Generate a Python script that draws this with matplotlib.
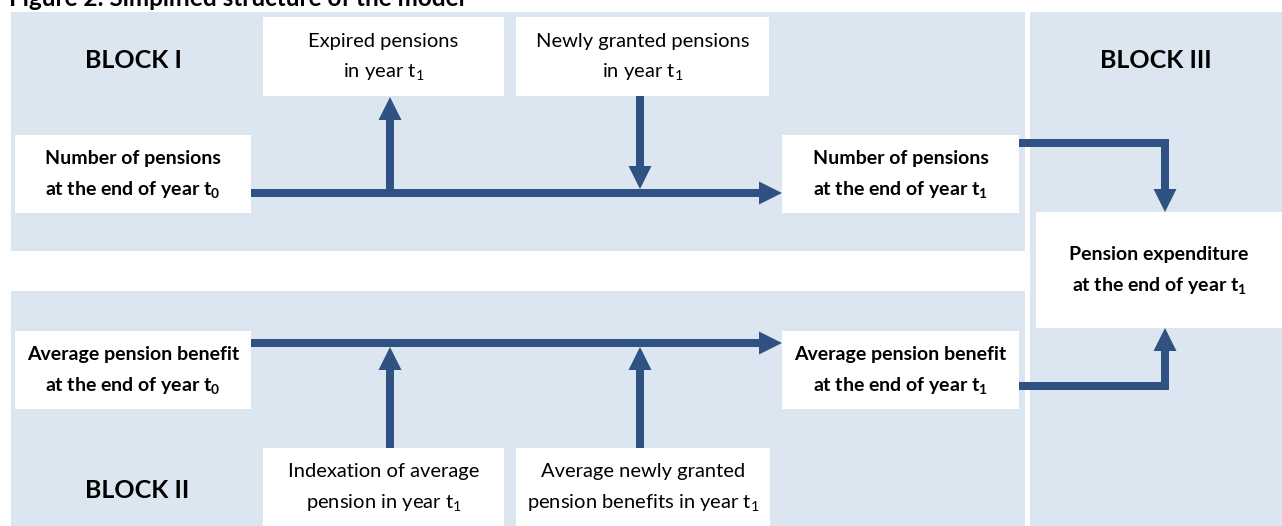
import matplotlib
matplotlib.use("Agg")
import matplotlib.pyplot as plt
from matplotlib.patches import Rectangle, Polygon

plt.rcParams['font.family'] = ['Lato', 'DejaVu Sans']

# ---- content ----
title = "Figure 2: Simplified structure of the model"
block_labels = ["BLOCK I", "BLOCK II", "BLOCK III"]
side_boxes = [  # bold boxes
    ["Number of pensions", r"at the end of year $\mathregular{t_0}$"],
    ["Number of pensions", r"at the end of year $\mathregular{t_1}$"],
    ["Average pension benefit", r"at the end of year $\mathregular{t_0}$"],
    ["Average pension benefit", r"at the end of year $\mathregular{t_1}$"],
    ["Pension expenditure", r"at the end of year $\mathregular{t_1}$"],
]
flow_boxes = [  # regular boxes
    ["Expired pensions", r"in year $\mathregular{t_1}$"],
    ["Newly granted pensions", r"in year $\mathregular{t_1}$"],
    ["Indexation of average", r"pension in year $\mathregular{t_1}$"],
    ["Average newly granted", r"pension benefits in year $\mathregular{t_1}$"],
]

# ---- layout (pixel coordinates) ----
W, H = 1282, 526
BG = "#DCE6F1"
ARROW = "#2F5282"

fig = plt.figure(figsize=(W / 100, H / 100), dpi=100)
ax = fig.add_axes([0, 0, 1, 1])
ax.set_xlim(0, W)
ax.set_ylim(H, 0)
ax.axis("off")

# block backgrounds (x0, y0, x1, y1)
blocks = [(11, 12, 1025, 251), (11, 291, 1025, H), (1030, 12, W, H)]
for x0, y0, x1, y1 in blocks:
    ax.add_patch(Rectangle((x0, y0), x1 - x0, y1 - y0, facecolor=BG, edgecolor="none", zorder=1))

block_text_pos = [(85, 60, "left"), (85, 490, "left"), (1156, 60, "center")]
for lab, (x, y, ha) in zip(block_labels, block_text_pos):
    ax.text(x, y, lab, ha=ha, va="center", fontsize=18, fontweight="bold", zorder=5)

side_rects = [(15, 135, 251, 213), (782, 135, 1019, 213),
              (15, 331, 251, 409), (782, 331, 1019, 409),
              (1036, 212, W, 328)]
flow_rects = [(263, 17, 504, 96), (516, 17, 769, 96),
              (263, 448, 504, H), (516, 448, 770, H)]


def box(rect, lines, weight, size):
    x0, y0, x1, y1 = rect
    ax.add_patch(Rectangle((x0, y0), x1 - x0, y1 - y0, facecolor="white", edgecolor="none", zorder=2))
    cx, cy = (x0 + x1) / 2, (y0 + y1) / 2
    for i, ln in enumerate(lines):
        ax.text(cx, cy + (i - 0.5) * 31, ln, ha="center", va="center",
                fontsize=size, fontweight=weight, zorder=5)


for r, l in zip(side_rects, side_boxes):
    box(r, l, "bold", 14)
for r, l in zip(flow_rects, flow_boxes):
    box(r, l, "normal", 14.5)

LW = 7.5      # stem width
HW = 23       # head width
HL = 23       # head length


def hseg(x0, x1, y):
    ax.add_patch(Rectangle((min(x0, x1), y - LW / 2), abs(x1 - x0), LW,
                           facecolor=ARROW, edgecolor="none", zorder=3))


def vseg(x, y0, y1):
    ax.add_patch(Rectangle((x - LW / 2, min(y0, y1)), LW, abs(y1 - y0),
                           facecolor=ARROW, edgecolor="none", zorder=3))


def head(tx, ty, direction):
    if direction == "right":
        pts = [(tx, ty), (tx - HL, ty - HW / 2), (tx - HL, ty + HW / 2)]
    elif direction == "up":
        pts = [(tx, ty), (tx - HW / 2, ty + HL), (tx + HW / 2, ty + HL)]
    else:  # down
        pts = [(tx, ty), (tx - HW / 2, ty - HL), (tx + HW / 2, ty - HL)]
    ax.add_patch(Polygon(pts, closed=True, facecolor=ARROW, edgecolor="none", zorder=3))


# Block I flows
hseg(251, 782 - HL, 193); head(782, 193, "right")
vseg(390, 193, 97 + HL); head(390, 97, "up")
vseg(640, 96, 189 - HL); head(640, 189, "down")
# Block II flows
hseg(251, 782 - HL, 343); head(782, 343, "right")
vseg(390, 448, 347 + HL); head(390, 347, "up")
vseg(640, 448, 347 + HL); head(640, 347, "up")
# to Block III
hseg(1019, 1165 + LW / 2, 143); vseg(1165, 143 - LW / 2, 212 - HL); head(1165, 212, "down")
hseg(1019, 1165 + LW / 2, 386); vseg(1165, 386 + LW / 2, 328 + HL); head(1165, 328, "up")

# title (cut at the top edge as in the source)
ax.text(9, 6, title, ha="left", va="baseline", fontsize=17.5, fontweight="bold", zorder=5)

fig.savefig("out.png", dpi=100)
